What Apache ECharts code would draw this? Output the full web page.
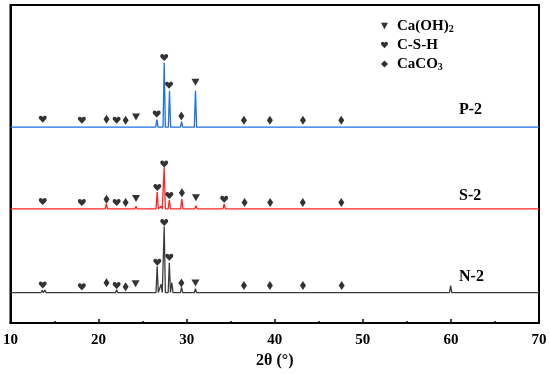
<!DOCTYPE html>
<html>
<head>
<meta charset="utf-8">
<script src="https://cdn.jsdelivr.net/npm/echarts@6/dist/echarts.min.js"></script>
<style>html,body{margin:0;padding:0;background:#fff}#c{width:550px;height:374px}</style>
</head>
<body>
<div id="c"></div>
<script>
// ---- data ----
const xTicks = [10, 20, 30, 40, 50, 60, 70];
const traceNames = ['P-2', 'S-2', 'N-2'];
const traceColors = ['#1f6fe5', '#ff2424', '#3c3c3c'];
const traceOffsets = [61.6, 35.9, 9.6];
// peaks: [2θ, relative intensity]
const peaksP2 = [[13.66,0.6],[13.9,0.4],[18.1,0.3],[20.9,0.6],[22.05,0.3],[23.07,0.3],[24.25,0.6],[26.62,2.4],[27.45,20.3],[28.05,11.4],[29.42,1.7],[31.0,11.4],[32.6,0.2],[34.1,0.4],[36.5,0.4],[39.4,0.4],[41.3,0.3],[42.3,0.3],[43.2,0.3],[44.5,0.2],[47.3,0.4],[50.8,0.3],[54.4,0.2],[60.0,0.4],[64.2,0.2]];
const peaksS2 = [[13.66,0.6],[18.1,0.5],[20.88,1.6],[22.05,0.6],[23.07,0.6],[24.25,0.8],[25.6,0.2],[26.65,5.3],[27.1,0.8],[27.45,13.1],[28.03,2.8],[29.45,3.1],[30.2,0.4],[31.05,1.0],[32.2,0.3],[34.26,1.6],[36.0,0.3],[36.57,0.4],[39.45,0.4],[40.8,0.3],[41.3,0.4],[42.2,0.5],[43.2,0.4],[47.5,0.3],[50.1,0.6],[50.7,0.3],[54.6,0.2],[57.6,0.2],[60.0,0.6],[64.4,0.2]];
const peaksN2 = [[11.7,0.2],[13.6,0.7],[13.9,0.8],[18.1,0.3],[20.88,0.5],[22.05,0.9],[23.07,0.3],[24.25,0.3],[26.65,8.3],[27.1,2.6],[27.45,20.8],[28.03,9.4],[28.32,3.1],[29.42,1.6],[31.0,1.2],[34.0,0.2],[36.55,0.5],[39.45,0.5],[40.8,0.2],[42.2,0.2],[43.2,0.2],[47.5,0.4],[50.1,0.5],[50.8,0.3],[54.9,0.2],[57.5,0.2],[57.85,0.5],[59.97,2.2],[64.0,0.2],[68.2,0.2]];
// phase markers: [2θ, y]
const markCaOH2 = [[24.25,64.8],[31.0,75.7],[24.25,39.2],[31.05,39.4],[24.2,12.4],[31.0,12.6]];
const markCSH = [[13.66,64.1],[18.1,63.8],[22.05,63.8],[26.6,65.7],[27.45,83.5],[28.0,74.8],
                 [13.66,38.2],[18.1,37.9],[22.05,37.9],[26.67,42.6],[27.45,50.0],[28.03,40.1],[34.26,38.9],
                 [13.66,12.0],[18.1,11.4],[22.05,11.8],[26.67,19.1],[27.45,31.6],[28.03,20.7]];
const markCaCO3 = [[20.9,64.1],[23.07,63.8],[29.4,65.1],[36.5,63.8],[39.45,63.8],[43.2,63.8],[47.55,63.8],
                   [20.9,38.9],[23.07,37.9],[29.46,41.0],[36.57,37.9],[39.48,37.9],[43.18,37.9],[47.56,37.9],
                   [20.9,12.7],[23.07,11.4],[29.4,12.6],[36.5,11.8],[39.45,11.8],[43.2,11.8],[47.6,11.8]];
const phaseNames = ['Ca(OH)2', 'C-S-H', 'CaCO3'];

// ---- build ----
const HW = 0.13;
function trace(peaks, off) {
  const d = [[10, off]];
  peaks.forEach(([x, h]) => { d.push([x - HW, off], [x, off + h], [x + HW, off]); });
  d.push([70, off]);
  return d;
}
const allPeaks = [peaksP2, peaksS2, peaksN2];
const triPath = 'path://M0,0 L100,0 L50,90 Z';
const heartPath = 'path://M50,95 L8,48 C-6,30 6,2 28,4 C40,5 47,14 50,22 C53,14 60,5 72,4 C94,2 106,30 92,48 Z';
const diaPath = 'path://M50,0 L100,50 L50,100 L0,50 Z';
const serif = '"Liberation Serif","Times New Roman",serif';

const series = allPeaks.map((p, i) => ({
  type: 'line', data: trace(p, traceOffsets[i]), showSymbol: false, symbol: 'none',
  sampling: 'none', silent: true, lineStyle: { color: traceColors[i], width: 1.3 }, z: 2
}));
const markSets = [markCaOH2, markCSH, markCaCO3];
const markSyms = [triPath, heartPath, diaPath];
const markSizes = [[8, 7], [8, 7], [6, 9]];
markSets.forEach((m, i) => series.push({
  type: 'scatter', name: phaseNames[i], data: m, symbol: markSyms[i], symbolSize: markSizes[i],
  itemStyle: { color: '#000' }, silent: true, z: 3
}));

const chart = echarts.init(document.getElementById('c'), null, { renderer: 'canvas' });
chart.setOption({
  animation: false,
  grid: { left: 10, right: 11, top: 5, bottom: 48, show: true, borderColor: '#000', borderWidth: 2 },
  xAxis: {
    type: 'value', min: xTicks[0], max: xTicks[xTicks.length - 1], interval: 10,
    name: '2θ (°)', nameLocation: 'middle', nameGap: 29,
    nameTextStyle: { fontFamily: serif, fontWeight: 'bold', fontSize: 16, color: '#000' },
    axisLine: { lineStyle: { color: '#000', width: 2 } },
    axisTick: { inside: true, length: 4, lineStyle: { color: '#000', width: 1.5 } },
    minorTick: { show: true, splitNumber: 2, length: 2, lineStyle: { color: '#000', width: 1.5 } },
    splitLine: { show: false },
    axisLabel: { fontFamily: serif, fontWeight: 'bold', fontSize: 15, color: '#000', margin: 10 }
  },
  yAxis: {
    type: 'value', min: 0, max: 100, axisLabel: { show: false }, axisTick: { show: false },
    splitLine: { show: false }, axisLine: { show: true, lineStyle: { color: '#000', width: 2 } }
  },
  legend: {
    orient: 'vertical', left: 376, top: 13, itemWidth: 7, itemHeight: 7, itemGap: 3.5,
    selectedMode: false,
    data: phaseNames.map((n, i) => ({ name: n, icon: markSyms[i] })),
    formatter: n => n === 'Ca(OH)2' ? '{a|Ca(OH)}{s|2}' : n === 'CaCO3' ? '{a|CaCO}{s|3}' : '{a|' + n + '}',
    textStyle: {
      padding: [0, 0, 0, 4],
      rich: {
        a: { fontFamily: serif, fontWeight: 'bold', fontSize: 15, color: '#000', lineHeight: 16 },
        s: { fontFamily: serif, fontWeight: 'bold', fontSize: 10, color: '#000', verticalAlign: 'bottom', lineHeight: 16, padding: [6, 0, 0, 0] }
      }
    }
  },
  graphic: traceNames.map((n, i) => ({
    type: 'text', left: 459, top: [102, 188, 269][i],
    style: { text: n, font: 'bold 16px ' + serif, fill: '#000' }
  })),
  series
});
</script>
</body>
</html>
